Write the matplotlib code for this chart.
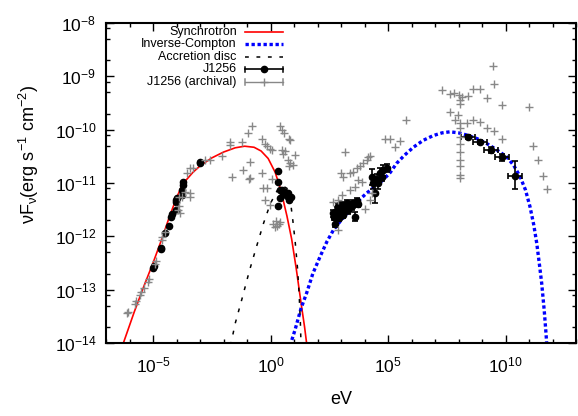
import numpy as np
import matplotlib
matplotlib.use('Agg')
import matplotlib.pyplot as plt
from matplotlib.ticker import FixedLocator, LogFormatterMathtext, NullFormatter, LogLocator

plt.rcParams['font.family'] = 'Liberation Sans'
plt.rcParams['mathtext.fontset'] = 'custom'
plt.rcParams['mathtext.rm'] = 'Liberation Sans'
plt.rcParams['mathtext.it'] = 'Liberation Sans:italic'
plt.rcParams['mathtext.bf'] = 'Liberation Sans:bold'

# model curves (log10 eV, log10 nuFnu)
sync_logE = [-6.26, -5.8, -5.4, -5.0, -4.6, -4.3, -4.0, -3.8, -3.6, -3.3, -3.0, -2.5, -2.0,
             -1.5, -1.1, -0.7, -0.4, -0.1, 0.2, 0.45, 0.7, 0.9, 1.1, 1.3, 1.45, 1.55]
sync_logF = [-14.0, -13.42, -12.95, -12.5, -12.02, -11.63, -11.28, -11.08, -10.95, -10.80, -10.68,
             -10.53, -10.42, -10.34, -10.31, -10.33, -10.40, -10.54, -10.80, -11.15, -11.62,
             -12.05, -12.62, -13.25, -13.7, -14.05]

ic_logE = [0.83, 1.04, 1.3, 1.54, 1.8, 2.11, 2.4, 2.68, 3.0, 3.38, 3.7, 4.09, 4.5, 4.8, 5.1, 5.37,
           5.7, 6.08, 6.5, 6.93, 7.3, 7.64, 8.0, 8.35, 8.8, 9.2, 9.6, 10.05, 10.35, 10.62, 10.85,
           11.04, 11.2, 11.33, 11.45, 11.54, 11.65, 11.72, 11.76]
ic_logF = [-14.05, -13.76, -13.35, -13.06, -12.7, -12.38, -12.1, -11.88, -11.7, -11.51, -11.35,
           -11.19, -11.05, -10.94, -10.80, -10.63, -10.48, -10.33, -10.2, -10.11, -10.06, -10.04,
           -10.06, -10.10, -10.17, -10.26, -10.37, -10.51, -10.67, -10.88, -11.13, -11.44, -11.78,
           -12.13, -12.55, -12.88, -13.4, -13.8, -14.05]

disc_logE = [-1.70, -1.5, -1.2, -0.9, -0.6, -0.3, 0.0, 0.3, 0.5, 0.7, 0.85, 0.95, 1.05, 1.15,
             1.22, 1.27, 1.30]
disc_logF = [-14.05, -13.63, -13.15, -12.65, -12.2, -11.76, -11.38, -11.13, -11.05, -11.1, -11.35,
             -11.7, -12.1, -12.6, -13.1, -13.6, -14.05]

# J1256 points without visible error bars (radio/IR/optical)
j_logE = [-4.99, -4.95, -4.68, -4.66, -4.48, -4.34, -4.24, -4.21, -4.04, -4.02, -4.03, -3.99,
          -3.77, -3.78, -3.74, -3.74, -3.0, -3.01,
          0.30, 0.30, 0.40, 0.47, 0.62, 0.76, 0.87, 0.80, 0.40, 0.33, 0.55, 0.70]
j_logF = [-12.60, -12.56, -12.24, -12.21, -11.94, -11.81, -11.63, -11.59, -11.51, -11.32, -11.36,
          -11.29, -11.22, -11.13, -11.04, -10.99, -10.63, -10.60,
          -10.77, -10.98, -11.13, -11.13, -11.16, -11.19, -11.26, -11.32, -11.29, -11.44, -11.2,
          -11.25]

# J1256 X-ray points, with error in dex
xr_logE = [2.67, 2.74, 2.71, 2.81, 2.89, 2.96, 3.03, 3.10, 3.17, 3.24, 3.31, 3.38, 3.45, 3.52,
           3.60, 3.67, 3.74, 2.92, 3.07, 2.79, 3.00, 3.14, 2.86,
           4.30, 4.37, 4.45, 4.66, 4.80, 4.94, 4.52, 4.73, 4.59]
xr_logF = [-11.57, -11.76, -11.63, -11.51, -11.44, -11.57, -11.41, -11.54, -11.44, -11.38, -11.51,
           -11.41, -11.44, -11.38, -11.63, -11.34, -11.39, -11.66, -11.60, -11.57, -11.49, -11.49,
           -11.60,
           -10.88, -11.0, -11.19, -10.82, -10.76, -10.72, -10.94, -10.88, -11.0]
xr_err = [0.06, 0.07, 0.06, 0.06, 0.06, 0.07, 0.06, 0.06, 0.06, 0.06, 0.07, 0.06, 0.06, 0.06,
          0.08, 0.06, 0.06, 0.06, 0.06, 0.06, 0.06, 0.06, 0.06,
          0.15, 0.12, 0.18, 0.1, 0.1, 0.08, 0.1, 0.08, 0.12]

# J1256 Fermi points: x error (dex), lower/upper y error (dex)
fermi_logE = [8.39, 8.91, 9.38, 9.86, 10.40]
fermi_logF = [-10.14, -10.23, -10.38, -10.52, -10.87]
fermi_xerr = [0.3, 0.3, 0.3, 0.3, 0.3]
fermi_ylo = [0.04, 0.04, 0.05, 0.07, 0.25]
fermi_yhi = [0.04, 0.04, 0.05, 0.07, 0.29]

# archival points
arc_logE = [-6.12, -6.08, -5.77, -5.74, -5.55, -5.52, -5.40, -5.2, -5.17, -4.91, -4.88, -4.63,
            -4.60, -4.49, -3.92, -3.85, -3.88, -3.88, -3.78, -3.64, -3.43, -3.43, -3.57, -3.43,
            -3.29, -2.79, -2.57, -2.08,
            -1.72, -1.72, -1.65, -1.23, -1.16, -0.94, -0.80, -0.87, -0.90, -0.86, -0.37, -0.23,
            -0.16, -0.02, 0.05, -0.37, -0.31, -0.16, -0.23, -0.02, 0.05, 0.40, 0.51, 0.59, 0.80,
            0.85, 0.47, 0.55, 0.62, 0.76, 0.85, 0.80, 1.04, 0.97, 0.12, 0.20, 0.28, 0.35, 0.42,
            0.22,
            2.89, 3.02, 3.10, 3.17, 3.38, 3.52, 3.67, 3.81, 3.95, 4.09, 4.16, 4.23, 2.67, 2.89,
            3.03, 3.38, 3.60, 3.74, 3.88, 4.02, 4.23, 4.30,
            4.87, 5.09, 5.30, 5.51, 5.77, 7.28, 7.64, 7.82, 8.03, 8.13, 8.06, 8.39, 8.63, 8.91,
            9.23, 9.45, 9.51, 9.86, 11.01, 7.64, 7.99, 7.85, 8.06, 8.35, 8.63, 8.91, 9.23, 9.49,
            9.86, 11.16, 11.37, 11.58, 11.75,
            8.06, 8.06, 8.06, 8.06, 8.06, 8.06, 8.06, 8.06, 8.06]
arc_logF = [-13.44, -13.41, -13.26, -13.22, -13.10, -13.05, -12.97, -12.85, -12.80, -12.51, -12.47,
            -12.07, -12.02, -11.91, -11.51, -11.57, -11.43, -11.26, -11.26, -11.16, -11.19, -11.26,
            -10.81, -10.72, -10.72, -10.56, -10.57, -10.50,
            -10.23, -10.29, -10.88, -10.24, -10.76, -10.06, -9.94, -10.60, -10.93, -10.90, -10.18,
            -10.27, -10.30, -10.36, -10.38, -10.82, -11.10, -11.10, -11.32, -11.41, -10.93, -9.94,
            -10.01, -10.07, -10.18, -10.20, -10.38, -10.45, -10.40, -10.57, -10.62, -10.69, -10.48,
            -10.66, -11.77, -11.83, -11.80, -11.76, -11.74, -11.72,
            -11.32, -10.82, -10.88, -10.41, -10.82, -10.79, -10.72, -10.69, -10.63, -10.57, -10.51,
            -10.49, -11.35, -11.88, -11.23, -11.13, -11.07, -10.94, -10.98, -11.49, -11.32, -11.19,
            -10.18, -10.18, -10.33, -10.21, -9.82, -9.26, -9.33, -9.32, -9.35, -9.38, -9.44, -9.37,
            -9.24, -9.24, -9.40, -8.80, -9.14, -9.54, -9.57, -9.66, -9.73, -9.82, -9.88, -9.88,
            -9.82, -9.85, -9.97, -10.02, -10.18, -10.31, -10.57, -10.87, -11.12,
            -9.51, -9.97, -10.13, -10.26, -10.41, -10.57, -10.69, -10.85, -10.90]


def lin(v):
    return 10.0 ** np.array(v)


fig = plt.figure(figsize=(5.78, 4.16), dpi=100)
ax = fig.add_axes([106 / 578, 73 / 416, 470 / 578, 320 / 416])

ax.plot(lin(sync_logE), lin(sync_logF), color='#ff0000', lw=1.2, zorder=2)
ax.plot(lin(ic_logE), lin(ic_logF), color='#0000ff', lw=2.4, ls=(0, (1, 0.8)), zorder=2)
ax.plot(lin(disc_logE), lin(disc_logF), color='black', lw=1.1, ls=(0, (2.5, 5)), zorder=2)

ax.plot(lin(j_logE), lin(j_logF), 'o', color='black', ms=4.5, zorder=3)

xF = np.array(xr_logF)
xe = np.array(xr_err)
ax.errorbar(lin(xr_logE), lin(xF), yerr=[lin(xF) - lin(xF - xe), lin(xF + xe) - lin(xF)],
            fmt='o', color='black', ms=4.5, capsize=2.5, elinewidth=1.2, capthick=1.2, zorder=3)

fE = np.array(fermi_logE)
fF = np.array(fermi_logF)
ax.errorbar(lin(fE), lin(fF),
            xerr=[lin(fE) - lin(fE - np.array(fermi_xerr)), lin(fE + np.array(fermi_xerr)) - lin(fE)],
            yerr=[lin(fF) - lin(fF - np.array(fermi_ylo)), lin(fF + np.array(fermi_yhi)) - lin(fF)],
            fmt='o', color='black', ms=4.5, capsize=2.5, elinewidth=1.2, capthick=1.2, zorder=3)

ax.plot(lin(arc_logE), lin(arc_logF), '+', color='#888888', ms=6, mew=1.0, zorder=4)

ax.set_xscale('log')
ax.set_yscale('log')
ax.set_xlim(1e-7, 1e13)
ax.set_ylim(1e-14, 1e-8)

ax.xaxis.set_major_locator(FixedLocator([1e-5, 1e0, 1e5, 1e10]))
ax.xaxis.set_minor_locator(FixedLocator([10.0 ** k for k in range(-7, 14) if k % 5 != 0]))
ax.xaxis.set_major_formatter(LogFormatterMathtext())
ax.xaxis.set_minor_formatter(NullFormatter())
ax.yaxis.set_major_locator(FixedLocator([10.0 ** k for k in range(-14, -7)]))
ax.yaxis.set_minor_locator(LogLocator(base=10, subs=(2.0, 5.0, 8.0), numticks=20))
ax.yaxis.set_major_formatter(LogFormatterMathtext())
ax.yaxis.set_minor_formatter(NullFormatter())

ax.tick_params(which='both', direction='in', top=True, right=True, labelsize=12.5)
ax.tick_params(which='major', length=6, width=1.0)
ax.tick_params(which='minor', length=3, width=1.0)
ax.tick_params(axis='x', which='major', pad=9)
ax.tick_params(axis='y', which='major', pad=7)
for s in ax.spines.values():
    s.set_linewidth(1.5)

ax.set_xlabel('eV', fontsize=13)
ax.xaxis.set_label_coords(0.5, -0.15)
ax.set_ylabel('νF$_{\\mathrm{ν}}$(erg s$^{-1}$ cm$^{-2}$)', fontsize=13)
ax.yaxis.set_label_coords(-0.138, 0.59)

# legend, gnuplot style: text right aligned, sample on the right
lx_text = 0.278
lx0, lx1 = 0.296, 0.377
rows = [0.972, 0.933, 0.894, 0.855, 0.816]
labels = ['Synchrotron', 'Inverse-Compton', 'Accretion disc', 'J1256', 'J1256 (archival)']
for lab, yy in zip(labels, rows):
    ax.text(lx_text, yy, lab, transform=ax.transAxes, ha='right', va='center', fontsize=9)
kw = dict(transform=ax.transAxes, clip_on=False, zorder=5)
ax.plot([lx0, lx1], [rows[0]] * 2, color='#ff0000', lw=1.2, **kw)
ax.plot([lx0, lx1], [rows[1]] * 2, color='#0000ff', lw=2.4, ls=(0, (1, 0.8)), **kw)
ax.plot([lx0, lx1], [rows[2]] * 2, color='black', lw=1.1, ls=(0, (2.5, 5)), **kw)
xm = (lx0 + lx1) / 2
ax.plot([lx0, lx1], [rows[3]] * 2, color='black', lw=1.2, **kw)
ax.plot([xm], [rows[3]], 'o', color='black', ms=4.5, **kw)
ax.plot([lx0, lx1], [rows[4]] * 2, color='#888888', lw=1.0, **kw)
ax.plot([xm], [rows[4]], '+', color='#888888', ms=6, mew=1.0, **kw)
for r, c in [(rows[3], 'black'), (rows[4], '#888888')]:
    for xx in (lx0, lx1):
        ax.plot([xx, xx], [r - 0.009, r + 0.009], color=c, lw=1.1, **kw)

fig.savefig('out.png', dpi=100)
